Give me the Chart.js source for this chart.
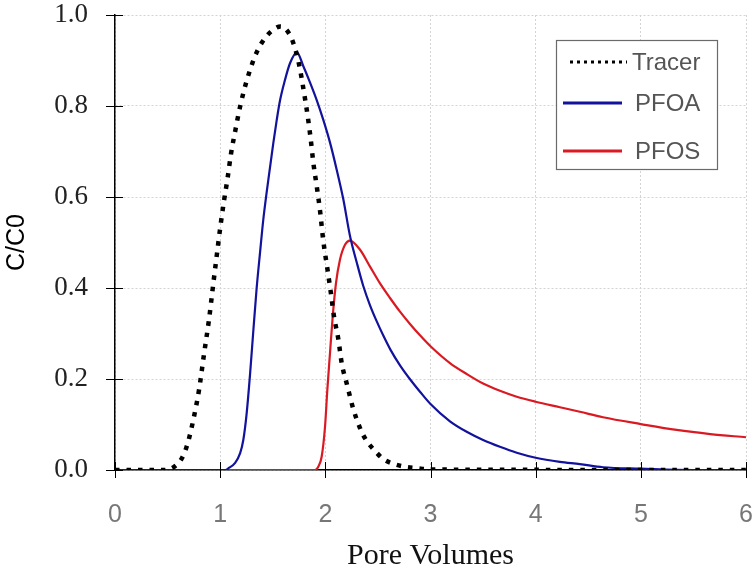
<!DOCTYPE html>
<html lang="en">
<head>
<meta charset="UTF-8" />
<title>Breakthrough curves</title>
<script src="https://cdn.jsdelivr.net/npm/chart.js@4.4.0/dist/chart.umd.min.js"></script>
<style>
  body { margin: 0; background: #fff; }
</style>
</head>
<body>
<canvas id="myChart" width="754" height="576"></canvas>
<script>
// values (pore volumes, C/C0)
const tracerX = [0, 0.45, 0.555, 0.634, 0.678, 0.71, 0.758, 0.799, 0.846, 0.894, 0.935, 0.977, 1.005, 1.036, 1.071, 1.103, 1.144, 1.188, 1.243, 1.309, 1.353, 1.41, 1.48, 1.575, 1.664, 1.702, 1.734, 1.76, 1.79, 1.832, 1.861, 1.886, 1.918, 1.949, 1.98, 2.019, 2.051, 2.082, 2.124, 2.155, 2.209, 2.266, 2.345, 2.399, 2.472, 2.551, 2.653, 2.757, 2.868, 3.0, 6.0];
const tracerY = [0, 0, 0.006, 0.025, 0.049, 0.075, 0.125, 0.176, 0.254, 0.331, 0.41, 0.489, 0.54, 0.591, 0.642, 0.695, 0.746, 0.797, 0.848, 0.896, 0.921, 0.944, 0.963, 0.975, 0.956, 0.934, 0.908, 0.88, 0.84, 0.778, 0.727, 0.675, 0.624, 0.571, 0.505, 0.443, 0.392, 0.338, 0.287, 0.236, 0.185, 0.134, 0.084, 0.062, 0.042, 0.024, 0.013, 0.007, 0.004, 0.001, 0];

const pfoaX = [0, 1.05, 1.08, 1.14, 1.19, 1.22, 1.25, 1.284, 1.315, 1.347, 1.38, 1.41, 1.442, 1.474, 1.505, 1.537, 1.569, 1.616, 1.664, 1.73, 1.79, 1.854, 1.918, 1.98, 2.044, 2.108, 2.171, 2.234, 2.3, 2.36, 2.425, 2.49, 2.55, 2.62, 2.71, 2.82, 2.9, 3.0, 3.185, 3.344, 3.5, 3.66, 3.82, 4.0, 4.23, 4.42, 4.64, 5.0, 5.5, 6.0];
const pfoaY = [0, 0, 0.004, 0.015, 0.037, 0.066, 0.12, 0.21, 0.305, 0.4, 0.48, 0.55, 0.61, 0.665, 0.718, 0.768, 0.812, 0.857, 0.894, 0.918, 0.888, 0.852, 0.813, 0.77, 0.72, 0.66, 0.595, 0.515, 0.455, 0.405, 0.362, 0.326, 0.296, 0.264, 0.23, 0.195, 0.172, 0.145, 0.107, 0.084, 0.066, 0.051, 0.038, 0.027, 0.018, 0.013, 0.006, 0.003, 0, 0];

const pfosX = [0, 1.9, 1.933, 1.965, 1.997, 2.019, 2.044, 2.07, 2.101, 2.139, 2.187, 2.234, 2.33, 2.425, 2.52, 2.615, 2.71, 2.805, 2.9, 3.0, 3.185, 3.344, 3.5, 3.66, 3.82, 4.0, 4.23, 4.42, 4.64, 5.0, 5.34, 5.66, 6.0];
const pfosY = [0, 0, 0.007, 0.029, 0.095, 0.176, 0.256, 0.337, 0.41, 0.462, 0.495, 0.504, 0.484, 0.447, 0.41, 0.378, 0.348, 0.321, 0.296, 0.272, 0.235, 0.211, 0.19, 0.174, 0.161, 0.15, 0.138, 0.128, 0.116, 0.101, 0.088, 0.079, 0.072];

const seriesNames = ["Tracer", "PFOA", "PFOS"];

function pts(xs, ys) {
  return xs.map((x, i) => ({ x: x, y: ys[i] }));
}

// tick marks that cross the axes
const crossTicks = {
  id: "crossTicks",
  afterDraw(chart) {
    const ctx = chart.ctx;
    const a = chart.chartArea;
    const xs = chart.scales.x, ys = chart.scales.y;
    ctx.save();
    ctx.strokeStyle = "#000";
    ctx.lineWidth = 1;
    ys.ticks.forEach(t => {
      const y = Math.round(ys.getPixelForValue(t.value)) + 0.5;
      ctx.beginPath();
      ctx.moveTo(a.left - 9, y);
      ctx.lineTo(a.left + 8, y);
      ctx.stroke();
    });
    xs.ticks.forEach(t => {
      const x = Math.round(xs.getPixelForValue(t.value)) + 0.5;
      ctx.beginPath();
      ctx.moveTo(x, a.bottom - 8);
      ctx.lineTo(x, a.bottom + 8);
      ctx.stroke();
    });
    ctx.restore();
  }
};

// boxed legend in the upper right corner
const boxLegend = {
  id: "boxLegend",
  afterDraw(chart) {
    const ctx = chart.ctx;
    ctx.save();
    ctx.fillStyle = "#fff";
    ctx.fillRect(556, 40, 161, 129);
    ctx.strokeStyle = "#6a6a6a";
    ctx.lineWidth = 1.2;
    ctx.strokeRect(556.5, 40.5, 161, 129);
    const rows = [62, 103, 151];
    ctx.font = "24px 'Liberation Sans'";
    ctx.textBaseline = "middle";
    ctx.fillStyle = "#555";
    chart.data.datasets.forEach((ds, i) => {
      const y = rows[i];
      ctx.beginPath();
      ctx.strokeStyle = ds.borderColor;
      if (i === 0) {
        ctx.lineWidth = 3;
        ctx.setLineDash([3, 4]);
        ctx.moveTo(570, y);
        ctx.lineTo(627, y);
      } else {
        ctx.lineWidth = 3;
        ctx.setLineDash([]);
        ctx.moveTo(563, y);
        ctx.lineTo(622, y);
      }
      ctx.stroke();
      ctx.setLineDash([]);
      ctx.fillText(ds.label, i === 0 ? 632 : 635, y + 1);
    });
    ctx.restore();
  }
};

const gridOpts = { color: "#d4d4d4", drawTicks: false };

const ctx = document.getElementById("myChart").getContext("2d");
const myChart = new Chart(ctx, {
  type: "line",
  data: {
    datasets: [
      {
        label: seriesNames[0],
        data: pts(tracerX, tracerY),
        borderColor: "#000000",
        borderWidth: 4.5,
        borderDash: [4.5, 7],
        cubicInterpolationMode: "monotone"
      },
      {
        label: seriesNames[1],
        data: pts(pfoaX, pfoaY),
        borderColor: "#12129c",
        borderWidth: 2.2,
        cubicInterpolationMode: "monotone"
      },
      {
        label: seriesNames[2],
        data: pts(pfosX, pfosY),
        borderColor: "#d91a22",
        borderWidth: 2.2,
        cubicInterpolationMode: "monotone"
      }
    ]
  },
  options: {
    responsive: false,
    animation: false,
    layout: { padding: { top: 15, right: 8 } },
    elements: { point: { radius: 0 } },
    plugins: {
      legend: { display: false },
      tooltip: { enabled: false }
    },
    scales: {
      x: {
        type: "linear",
        min: 0,
        max: 6,
        ticks: {
          stepSize: 1,
          padding: 30,
          color: "#777",
          font: { family: "Liberation Sans", size: 25 }
        },
        grid: gridOpts,
        border: { color: "#000", width: 1.5, dash: [2, 2] },
        title: {
          display: true,
          text: "Pore Volumes",
          color: "#111",
          font: { family: "Liberation Serif", size: 30 },
          padding: { top: 0, bottom: 2 }
        },
        // fixed box so the plot area lands where it is in the picture
        afterFit(s) {
          s.height = 106;
          s.paddingLeft = 0;
          s.paddingRight = 0;
        }
      },
      y: {
        min: 0,
        max: 1,
        ticks: {
          stepSize: 0.2,
          padding: 27,
          color: "#222",
          font: { family: "Liberation Serif", size: 27 },
          callback: v => v.toFixed(1)
        },
        grid: gridOpts,
        border: { color: "#000", width: 1.5, dash: [2, 2] },
        title: {
          display: true,
          text: "C/C0",
          color: "#000",
          font: { family: "Liberation Sans", size: 25 },
          padding: { top: 2, bottom: 0 }
        },
        afterFit(s) {
          s.width = 115;
          s.paddingTop = 0;
          s.paddingBottom = 0;
        }
      }
    }
  },
  plugins: [crossTicks, boxLegend]
});
</script>
</body>
</html>
